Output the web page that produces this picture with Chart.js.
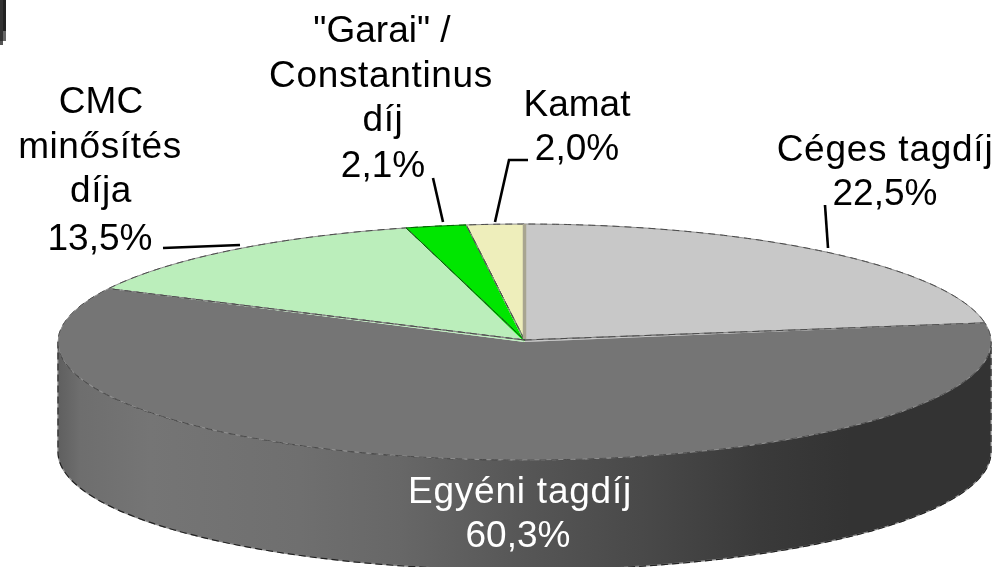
<!DOCTYPE html>
<html>
<head>
<meta charset="utf-8">
<style>html,body{margin:0;padding:0;background:#fff}canvas{display:block}</style>
<script src="https://cdn.jsdelivr.net/npm/chart.js@4"></script>
</head>
<body>
<canvas id="c" width="1001" height="567"></canvas>
<script>
const categories = ['Céges tagdíj', 'Egyéni tagdíj', 'CMC minősítés díja', '"Garai" / Constantinus díj', 'Kamat'];
const values = [22.5, 60.3, 13.5, 2.1, 2.0];
const valueLabels = ['22,5%', '60,3%', '13,5%', '2,1%', '2,0%'];
const sliceColors = ['#c8c8c8', '#757575', '#bbeebb', '#00e600', '#eeeebb'];

const view = {cx: 524.5, cy: 342, rx: 466.5, ry: 118, depth: 110};
const fontSize = 37;
const labelLayout = [
  {color:'#000', lines:[['Céges tagdíj',885,161,0.75],['22,5%',885,205,0]]},
  {color:'#fff', lines:[['Egyéni tagdíj',520,503,0.77],['60,3%',518,547,0]]},
  {color:'#000', lines:[['CMC',101,113,0],['minősítés',100,158,0.6],['díja',101,202,0.6],['13,5%',100,250,0]]},
  {color:'#000', lines:[['"Garai" /',382,42,0],['Constantinus',381,87,0.65],['díj',383,131,0.6],['2,1%',383,177,0]]},
  {color:'#000', lines:[['Kamat',577,116,0],['2,0%',577,160,0]]}
];
const leaders = [
  [[825,205],[828,248]],
  [[163,248],[240,245]],
  [[433,178],[443,222]],
  [[528,160],[509,160],[495,222]]
];
const wallStops = [[58,'#5f5f5f'],[80,'#6e6e6e'],[150,'#757575'],[300,'#6f6f6f'],[400,'#676767'],[525,'#565656'],[650,'#484848'],[760,'#3a3a3a'],[850,'#333333'],[991,'#333333']];

const pie3d = {
  id: 'pie3d',
  beforeDatasetsDraw(chart) {
    const ctx = chart.ctx, arcs = chart.getDatasetMeta(0).data, v = view;
    const g = ctx.createLinearGradient(58, 0, 991, 0);
    wallStops.forEach(s => g.addColorStop((s[0] - 58) / 933, s[1]));
    arcs.forEach(a => {
      const s = Math.max(a.startAngle, 0), e = Math.min(a.endAngle, Math.PI);
      if (e <= s) return;
      ctx.save();
      ctx.beginPath();
      ctx.ellipse(v.cx, v.cy, v.rx, v.ry, 0, s, e);
      ctx.ellipse(v.cx, v.cy + v.depth, v.rx, v.ry, 0, e, s, true);
      ctx.closePath();
      ctx.fillStyle = g;
      ctx.fill();
      ctx.lineWidth = 1.2;
      ctx.strokeStyle = '#8a8a8a';
      ctx.stroke();
      ctx.setLineDash([7, 4]);
      ctx.strokeStyle = '#222';
      ctx.stroke();
      ctx.restore();
    });
    const a0 = arcs[0], k = a0.outerRadius;
    ctx.save();
    ctx.translate(v.cx, v.cy);
    ctx.scale(v.rx / k, v.ry / k);
    ctx.translate(-a0.x, -a0.y);
  },
  afterDatasetsDraw(chart) {
    const ctx = chart.ctx, arcs = chart.getDatasetMeta(0).data, v = view;
    ctx.restore();
    arcs.forEach((a, i) => {
      ctx.save();
      ctx.beginPath();
      ctx.moveTo(v.cx, v.cy - 2);
      ctx.ellipse(v.cx, v.cy, v.rx, v.ry, 0, a.startAngle, a.endAngle);
      ctx.closePath();
      ctx.lineWidth = 1;
      ctx.strokeStyle = i === 3 ? '#0a7a0a' : '#8f8f8f';
      ctx.stroke();
      ctx.setLineDash([7, 5]);
      ctx.strokeStyle = i === 3 ? '#006600' : '#4a4a4a';
      ctx.stroke();
      ctx.restore();
    });
    // sliver of the cut face between the last and the first slice
    const st = arcs[0].startAngle;
    ctx.save();
    ctx.beginPath();
    ctx.moveTo(v.cx, v.cy - 3);
    ctx.lineTo(v.cx + v.rx * Math.cos(st), v.cy + v.ry * Math.sin(st));
    ctx.lineWidth = 3.5;
    ctx.strokeStyle = '#a8a590';
    ctx.stroke();
    ctx.restore();
  },
  afterDraw(chart) {
    const ctx = chart.ctx;
    ctx.save();
    // fragment in the top left corner
    ctx.fillStyle = '#333'; ctx.fillRect(0, 0, 3, 41);
    ctx.fillStyle = '#222'; ctx.fillRect(3, 0, 3, 31);
    ctx.fillStyle = '#666'; ctx.fillRect(3, 31, 3, 10);
    ctx.fillStyle = '#555'; ctx.fillRect(0, 41, 3, 4);
    // leader lines
    ctx.strokeStyle = '#000';
    ctx.lineWidth = 2.6;
    ctx.lineJoin = 'miter';
    leaders.forEach(l => {
      ctx.beginPath();
      l.forEach((p, i) => i ? ctx.lineTo(p[0], p[1]) : ctx.moveTo(p[0], p[1]));
      ctx.stroke();
    });
    // data labels
    ctx.font = fontSize + 'px "Liberation Sans", Arial, sans-serif';
    ctx.textAlign = 'center';
    ctx.textBaseline = 'alphabetic';
    labelLayout.forEach(b => {
      ctx.fillStyle = b.color;
      b.lines.forEach(l => {
        ctx.letterSpacing = l[3] + 'px';
        ctx.fillText(l[0], l[1], l[2]);
      });
    });
    ctx.restore();
  }
};

new Chart(document.getElementById('c'), {
  type: 'pie',
  data: {
    labels: categories,
    datasets: [{data: values, backgroundColor: sliceColors, borderWidth: 0}]
  },
  options: {
    responsive: false,
    animation: false,
    layout: {padding: 0},
    plugins: {legend: {display: false}, tooltip: {enabled: false}, title: {display: false}}
  },
  plugins: [pie3d]
});
</script>
</body>
</html>
